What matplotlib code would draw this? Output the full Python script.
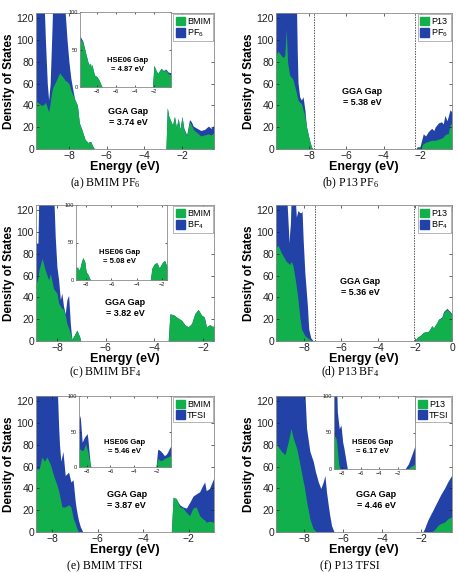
import matplotlib.pyplot as plt
from matplotlib.patches import Patch

plt.rcParams['font.family'] = ['Liberation Sans', 'DejaVu Sans']
plt.rcParams['mathtext.default'] = 'regular'

W, H = 458, 572
GREEN = '#12b04c'
BLUE = '#2342a8'

# (a) BMIM PF6 : energy, cation DOS, total DOS
a_E = [-9.75, -9.6, -9.45, -9.33, -9.25, -9.15, -9.08, -9.0, -8.92, -8.85, -8.7, -8.5, -8.32, -8.2,
       -8.1, -8.0, -7.9, -7.8, -7.7, -7.55, -7.45, -7.3, -7.15, -7.0, -6.85, -6.75, -6.65,
       -2.85, -2.78, -2.7, -2.6, -2.5, -2.4, -2.3, -2.2, -2.1, -2.0, -1.9, -1.75, -1.6, -1.5,
       -1.4, -1.2, -1.0, -0.8, -0.6, -0.45, -0.3]
a_cat = [44, 42, 40, 41, 43, 38, 34, 42, 52, 57, 62, 70, 66, 63, 62, 60, 54, 50, 46, 40, 24, 17, 9, 6, 7, 3, 0,
         0, 38, 30, 26, 22, 30, 20, 28, 18, 30, 18, 12, 25, 22, 18, 15, 12, 13, 14, 13, 15]
a_tot = [140, 140, 140, 140, 100, 60, 45, 60, 100, 140, 140, 140, 140, 125, 100, 80, 65, 55, 46, 40, 24, 17, 9, 6, 7, 3, 0,
         0, 38, 30, 26, 22, 30, 20, 28, 18, 30, 19, 13, 27, 25, 21, 19, 17, 18, 21, 19, 22]
# (a) inset, HSE06
ai_E = [-9.8, -9.5, -9.16, -8.98, -8.81, -8.7, -8.63, -8.55, -8.28, -8.04, -7.82, -7.58, -7.47,
        -2.15, -2.0, -1.85, -1.6, -1.4, -1.25, -1.0, -0.75, -0.5, -0.2]
ai_cat = [64, 60, 43, 34, 29, 32, 26, 30, 16, 14, 10, 3, 0,
          0, 29, 24, 18, 22, 25, 21, 23, 18, 16]
ai_tot = [68, 61, 43, 34, 29, 32, 26, 30, 16, 14, 10, 3, 0,
          0, 29, 24, 18, 22, 25, 22, 24, 20, 19]

# (b) P13 PF6
b_E = [-9.79, -9.67, -9.4, -9.3, -9.22, -9.15, -9.04, -8.86, -8.68, -8.63, -8.59, -8.5, -8.41, -8.32,
       -8.22, -8.14, -8.0, -7.87, -7.78,
       -2.27, -2.2, -2.05, -1.87, -1.75, -1.6, -1.42, -1.3, -1.24, -1.06, -0.89, -0.8, -0.71, -0.6,
       -0.53, -0.44, -0.33]
b_cat = [85, 90, 84, 86, 110, 80, 68, 64, 52, 48, 45, 43, 42, 36, 30, 21, 10, 2, 0,
         0, 0.5, 0.5, 5, 6, 7, 8, 8, 8, 9, 10, 11, 13, 14, 14, 22, 24]
b_tot = [140, 140, 140, 140, 140, 140, 140, 140, 140, 90, 61, 48, 45, 48, 36, 21, 10, 2, 0,
         0, 2, 2, 14, 12, 16, 19, 17, 20, 24, 25, 23, 31, 26, 30, 36, 34]
b_gap = [-7.72, -2.32]

# (c) BMIM BF4
c_E = [-8.86, -8.78, -8.74, -8.61, -8.48, -8.34, -8.27, -8.14, -8.07, -8.0, -7.93, -7.86, -7.8, -7.73,
       -7.66, -7.59, -7.52, -7.45, -7.39, -7.32, -7.18, -7.07, -7.02,
       -3.43, -3.36, -3.2, -3.09, -2.88, -2.75, -2.61, -2.47, -2.34, -2.2, -2.07, -1.95, -1.86,
       -1.72, -1.59, -1.55]
c_cat = [52, 58, 65, 76, 65, 56, 62, 48, 46, 44, 35, 32, 30, 29, 24, 16, 12, 7, 2, 4, 10, 4, 0,
         0, 25, 24, 22, 19, 15, 13, 16, 25, 29, 24, 22, 13, 15, 13, 16]
c_tot = [90, 90, 140, 140, 140, 140, 140, 140, 96, 68, 56, 38, 44, 32, 25, 38, 42, 16, 2, 4, 10, 4, 0,
         0, 25, 24, 22, 19, 15, 13, 16, 25, 29, 24, 22, 13, 15, 13, 16]
ci_E = [-8.8, -8.65, -8.53, -8.37, -8.26, -8.1, -8.0, -7.84, -7.66,
        -2.92, -2.79, -2.58, -2.39, -2.21, -1.95, -1.79, -1.6]
ci_cat = [18, 16, 13, 24, 30, 24, 11, 7, 0,
          0, 16, 22, 23, 16, 24, 26, 18]
ci_tot = ci_cat

# (d) P13 BF4
d_E = [-9.54, -9.41, -9.23, -8.96, -8.81, -8.78, -8.74, -8.69, -8.6, -8.51, -8.42, -8.33, -8.24, -8.14,
       -8.11, -8.05, -7.96, -7.82, -7.75, -7.64, -7.55, -7.5,
       -2.0, -1.91, -1.73, -1.54, -1.27, -1.09, -1.0, -0.82, -0.73, -0.55, -0.46, -0.28, -0.1, 0.0]
d_cat = [85, 88, 81, 73, 71, 70, 72, 73, 69, 60, 50, 38, 23, 11, 10, 8, 5, 3, 2, 1, 0, 0,
         0, 3, 5, 8, 9, 14, 12, 17, 20, 21, 26, 29, 26, 24]
d_tot = [140, 140, 140, 140, 90, 100, 108, 140, 140, 140, 114, 120, 118, 118, 120, 93, 63, 32, 11, 3, 1, 0,
         0, 3, 5, 8, 9, 14, 12, 17, 20, 22, 27, 30, 27, 25]
d_gap = [-7.40, -2.04]

# (e) BMIM TFSI
e_E = [-8.7, -8.56, -8.44, -8.33, -8.22, -8.07, -7.93, -7.78, -7.71, -7.67, -7.61, -7.56, -7.52, -7.42,
       -7.27, -7.17, -7.08, -7.06, -6.98, -6.94, -6.88, -6.84, -6.76, -6.65,
       -2.77, -2.69, -2.55, -2.4, -2.26, -2.11, -1.97, -1.82, -1.68, -1.53, -1.39, -1.31, -1.24,
       -1.1, -0.92]
e_cat = [58, 58, 69, 65, 69, 62, 52, 43, 38, 34, 28, 23, 23, 23, 25, 23, 14, 12, 8, 5, 2, 0, 0, 0,
         0, 32, 31, 23, 22, 18, 15, 22, 23, 15, 12, 11, 9, 10, 9]
e_tot = [140, 140, 140, 140, 140, 140, 140, 140, 98, 80, 65, 70, 74, 52, 55, 46, 48, 45, 28, 22, 15, 11, 5, 0,
         0, 32, 30, 25, 23, 22, 27, 33, 35, 37, 43, 46, 38, 40, 49]
ei_E = [-8.69, -8.6, -8.43, -8.37, -8.23, -8.14, -8.0, -7.94, -7.86, -7.8, -7.74, -7.69, -7.64,
        -2.09, -1.94, -1.8, -1.66, -1.5, -1.37, -1.2, -1.09, -0.95, -0.8]
ei_cat = [26, 25, 23, 23, 28, 33, 25, 21, 14, 9, 4, 0, 0,
          0, 12, 10, 9, 10, 12, 13, 14, 15, 16]
ei_tot = [66, 73, 35, 37, 42, 44, 47, 40, 26, 15, 5, 1, 0,
          0, 25, 24, 22, 19, 16, 18, 21, 26, 30]

# (f) P13 TFSI
f_E = [-9.45, -9.33, -9.16, -8.99, -8.82, -8.68, -8.56, -8.39, -8.22, -8.05, -8.0, -7.88, -7.71, -7.54,
       -7.42, -7.37, -7.28, -7.15, -7.03, -6.94, -6.86, -6.77, -6.69, -6.6, -6.47,
       -1.92, -1.83, -1.66, -1.49, -1.4, -1.32, -1.15, -0.98, -0.81, -0.64, -0.44]
f_cat = [83, 78, 74, 71, 83, 95, 86, 77, 62, 46, 42, 28, 12, 3, 1, 0, 0, 0, 0, 0, 0, 0, 0, 0, 0,
         0, 0, 0, 0, 1, 2, 6, 8, 9, 12, 14]
f_tot = [140, 140, 140, 140, 140, 140, 140, 140, 140, 140, 140, 95, 74, 65, 55, 52, 46, 40, 46, 52, 37, 25, 15, 6, 0,
         0, 3, 11, 17, 20, 23, 29, 35, 40, 46, 52]
fi_E = [-8.86, -8.64, -8.57, -8.5, -8.36, -8.29, -8.21, -8.11, -7.93, -7.79, -7.61, -7.43,
        -1.25, -0.89, -0.71, -0.54, -0.18]
fi_cat = [46, 42, 36, 26, 7, 3, 0, 0, 0, 0, 0, 0,
          0, 0, 3, 4, 7]
fi_tot = [140, 140, 110, 78, 62, 55, 58, 60, 37, 28, 14, 0,
          0, 7, 13, 19, 32]

cations = ['BMIM', 'P13', 'BMIM', 'P13', 'BMIM', 'P13']
anions = ['PF$_6$', 'PF$_6$', 'BF$_4$', 'BF$_4$', 'TFSI', 'TFSI']
captions = ['(a) BMIM PF$_6$', '(b) P13 PF$_6$', '(c) BMIM BF$_4$',
            '(d) P13 BF$_4$', '(e) BMIM TFSI', '(f) P13 TFSI']
gga_gaps = ['3.74', '5.38', '3.82', '5.36', '3.87', '4.46']
hse_gaps = ['4.87', None, '5.08', None, '5.46', '6.17']


def box(x0, y0, x1, y1):
    return [x0 / W, 1 - y1 / H, (x1 - x0) / W, (y1 - y0) / H]


def draw_dos(ax, E, cat, tot):
    ax.fill_between(E, 0, tot, color=BLUE, lw=0)
    ax.fill_between(E, 0, cat, color=GREEN, lw=0)


def style(ax, size, length):
    for s in ax.spines.values():
        s.set_color('#8a8a8a')
        s.set_linewidth(0.6)
    ax.tick_params(direction='in', labelsize=size, length=length, width=0.5,
                   pad=1.5, top=True, right=True, colors='#222222')


fig = plt.figure(figsize=(W / 100, H / 100), dpi=100)

panels = [
    (a_E, a_cat, a_tot, (36, 13, 214, 149), (-9.75, -0.3), None),
    (b_E, b_cat, b_tot, (276, 13, 452, 149), (-9.77, -0.33), b_gap),
    (c_E, c_cat, c_tot, (36, 205, 214, 341), (-8.86, -1.55), None),
    (d_E, d_cat, d_tot, (276, 205, 452, 341), (-9.52, 0.0), d_gap),
    (e_E, e_cat, e_tot, (36, 396, 214, 532), (-8.7, -0.9), None),
    (f_E, f_cat, f_tot, (276, 396, 452, 532), (-9.45, -0.42), None),
]
insets = [
    (ai_E, ai_cat, ai_tot, (80, 12, 171, 87), (-9.8, -0.2), (0.52, 0.29)),
    None,
    (ci_E, ci_cat, ci_tot, (76, 205, 167, 280), (-8.8, -1.6), (0.48, 0.31)),
    None,
    (ei_E, ei_cat, ei_tot, (79, 396, 171, 467), (-8.7, -0.8), (0.49, 0.28)),
    (fi_E, fi_cat, fi_tot, (334, 396, 415, 469), (-8.86, -0.18), (0.48, 0.30)),
]
gga_pos = [(0.52, 0.235), (0.49, 0.38), (0.50, 0.24), (0.48, 0.40), (0.51, 0.235), (0.57, 0.235)]
caption_y = [183, 183, 372, 372, 566, 566]

for i, (E, cat, tot, rect, xl, gap) in enumerate(panels):
    ax = fig.add_axes(box(*rect))
    draw_dos(ax, E, cat, tot)
    ax.set_xlim(*xl)
    ax.set_ylim(0, 125)
    ax.set_xticks([-8, -6, -4, -2, 0])
    ax.set_yticks(range(0, 121, 20))
    ax.set_xlim(*xl)
    style(ax, 7.5, 2.5)
    ax.set_xlabel('Energy (eV)', fontsize=9, fontweight='bold', labelpad=0)
    ax.set_ylabel('Density of States', fontsize=8.5, fontweight='bold', labelpad=1)
    if gap:
        for g in gap:
            ax.axvline(g, color='#555555', lw=0.7, ls=(0, (1.5, 1.2)))
    tx, ty = gga_pos[i]
    ax.text(tx, ty, 'GGA Gap\n= %s eV' % gga_gaps[i], transform=ax.transAxes,
            ha='center', va='center', fontsize=6.5, fontweight='bold', linespacing=1.3)
    handles = [Patch(color=GREEN, label=cations[i]), Patch(color=BLUE, label=anions[i])]
    leg = ax.legend(handles=handles, loc='upper right', fontsize=6.5, fancybox=False,
                    edgecolor='#999999', framealpha=1, borderpad=0.25, handlelength=1.0,
                    handleheight=1.1, handletextpad=0.25, labelspacing=0.15, borderaxespad=0.15)
    leg.get_frame().set_linewidth(0.5)
    cx = (rect[0] + rect[2]) / 2 - 20 if i % 2 == 0 else (rect[0] + rect[2]) / 2 - 14
    fig.text(cx / W, 1 - caption_y[i] / H, captions[i], ha='center', va='center',
             fontsize=8.5, family='Liberation Serif')

    ins = insets[i]
    if ins:
        iE, icat, itot, irect, ixl, ipos = ins
        iax = fig.add_axes(box(*irect))
        draw_dos(iax, iE, icat, itot)
        iax.set_xlim(*ixl)
        iax.set_ylim(0, 100)
        iax.set_xticks([-8, -6, -4, -2])
        iax.set_yticks([0, 50, 100])
        iax.set_xlim(*ixl)
        style(iax, 4, 1.5)
        iax.text(ipos[0], ipos[1], 'HSE06 Gap\n= %s eV' % hse_gaps[i], transform=iax.transAxes,
                 ha='center', va='center', fontsize=5.5, fontweight='bold', linespacing=1.3)

fig.savefig('out.png', dpi=100)
